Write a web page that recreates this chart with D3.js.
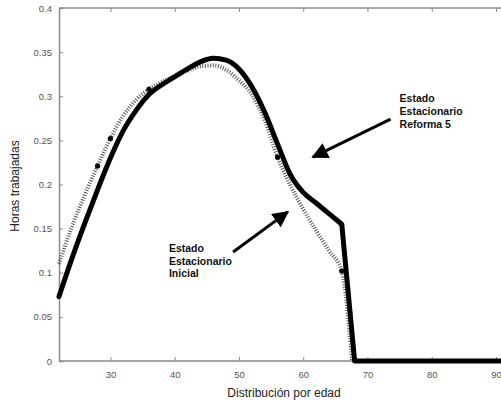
<!DOCTYPE html>
<html><head><meta charset="utf-8">
<script src="https://cdn.jsdelivr.net/npm/d3@7"></script>
<style>body{margin:0;background:#fff}svg{display:block}</style>
</head><body>
<svg id="c" width="501" height="403"></svg>
<script>
// Data
const ages = [22,24,26,28,30,32,34,36,38,40,42,44,46,48,50,52,54,56,58,60,62,64,66,68,70,75,80,85,90,92];
const reforma5 = [0.073,0.116,0.156,0.194,0.230,0.261,0.284,0.302,0.313,0.322,0.331,0.339,0.343,0.341,0.331,0.311,0.282,0.246,0.211,0.191,0.179,0.167,0.155,0,0,0,0,0,0,0];
const agesIni = [22,24,26,28,30,32,34,36,38,40,42,44,46,48,50,52,54,56,58,60,62,64,66,67.6];
const inicial = [0.110,0.152,0.188,0.221,0.252,0.278,0.296,0.308,0.316,0.323,0.329,0.334,0.335,0.330,0.318,0.302,0.273,0.231,0.199,0.172,0.148,0.125,0.102,0];
const markAges = [28,30,36,56,66];
const markVals = [0.221,0.252,0.308,0.231,0.102];
const xTicks = [30,40,50,60,70,80,90];
const yTicks = [0,0.05,0.1,0.15,0.2,0.25,0.3,0.35,0.4];
const yTickLabels = ["0","0.05","0.1","0.15","0.2","0.25","0.3","0.35","0.4"];
const notes = [
  {lines:["Estado","Estacionario","Reforma 5"], x:75.0, y:0.293, from:[73.6,0.274], to:[61.5,0.231]},
  {lines:["Estado","Estacionario","Inicial"], x:39.1, y:0.1235, from:[49.1,0.1235], to:[57.6,0.169]}
];

const svg = d3.select("#c");
const x = d3.scaleLinear().domain([22,90]).range([59,496]);
const y = d3.scaleLinear().domain([0,0.4]).range([361,8]);
const xMax = 93;

const axisColor = "#8a8a8a";
svg.append("line").attr("x1",x(22)).attr("x2",x(xMax)).attr("y1",y(0.4)).attr("y2",y(0.4)).attr("stroke",axisColor).attr("stroke-width",1.5);

const gx = svg.append("g").attr("transform",`translate(0,${y(0)})`)
  .call(d3.axisBottom(x).tickValues(xTicks).tickSize(-4).tickPadding(10).tickFormat(d3.format("d")));
gx.select(".domain").attr("d",`M${x(22)},0H${x(xMax)}`);
const gxt = svg.append("g").attr("transform",`translate(0,${y(0.4)})`)
  .call(d3.axisTop(x).tickValues(xTicks).tickSize(-4).tickFormat(""));
gxt.select(".domain").remove();
const gy = svg.append("g").attr("transform",`translate(${x(22)},0)`)
  .call(d3.axisLeft(y).tickValues(yTicks).tickSize(-4).tickPadding(7).tickFormat((d,i)=>yTickLabels[i]));
[gx,gxt,gy].forEach(g=>{
  g.selectAll(".domain").attr("stroke",axisColor).attr("stroke-width",1.5);
  g.selectAll(".tick line").attr("stroke",axisColor).attr("stroke-width",1);
  g.selectAll("text").attr("font-family","Liberation Sans, Arial, sans-serif").attr("font-size",9.5).attr("fill","#555");
});

// lines
const smooth = d3.line().x(d=>x(d[0])).y(d=>y(d[1])).curve(d3.curveMonotoneX);
const straight = d3.line().x(d=>x(d[0])).y(d=>y(d[1])).curve(d3.curveLinear);
svg.append("path").datum(agesIni.map((a,i)=>[a,inicial[i]]))
  .attr("d",smooth).attr("fill","none")
  .attr("stroke","#555").attr("stroke-width",4).attr("stroke-dasharray","1 1.6");
const solidPts = ages.map((a,i)=>[a,reforma5[i]]);
const kinkIdx = ages.indexOf(66);
svg.append("path").datum(solidPts.slice(0,kinkIdx+1))
  .attr("d",smooth).attr("fill","none")
  .attr("stroke","#000").attr("stroke-width",5).attr("stroke-linejoin","round").attr("stroke-linecap","round");
svg.append("path").datum(solidPts.slice(kinkIdx))
  .attr("d",straight).attr("fill","none")
  .attr("stroke","#000").attr("stroke-width",5).attr("stroke-linejoin","round");
svg.selectAll("circle.m").data(markAges).enter().append("circle")
  .attr("cx",d=>x(d)).attr("cy",(d,i)=>y(markVals[i])).attr("r",2.6).attr("fill","#000");

// arrows
svg.append("defs").append("marker").attr("id","ah").attr("viewBox","0 0 10 10")
  .attr("refX",9).attr("refY",5).attr("markerWidth",5.5).attr("markerHeight",5.5)
  .attr("markerUnits","strokeWidth").attr("orient","auto")
  .append("path").attr("d","M0,0L10,5L0,10Z").attr("fill","#000");
notes.forEach(n=>{
  svg.append("line").attr("x1",x(n.from[0])).attr("y1",y(n.from[1]))
    .attr("x2",x(n.to[0])).attr("y2",y(n.to[1])).attr("stroke","#000").attr("stroke-width",3)
    .attr("marker-end","url(#ah)");
  const t = svg.append("text").attr("x",x(n.x)).attr("y",y(n.y))
    .attr("font-family","Liberation Sans, Arial, sans-serif").attr("font-size",10.5).attr("font-weight","bold").attr("fill","#111");
  n.lines.forEach((l,i)=>t.append("tspan").attr("x",x(n.x)).attr("dy",i?12.7:0).text(l));
});

// titles
svg.append("text").attr("x",284).attr("y",397).attr("text-anchor","middle")
  .attr("font-family","Liberation Sans, Arial, sans-serif").attr("font-size",12).attr("fill","#222")
  .text("Distribución por edad");
svg.append("text").attr("transform","translate(19,186) rotate(-90)").attr("text-anchor","middle")
  .attr("font-family","Liberation Sans, Arial, sans-serif").attr("font-size",12).attr("fill","#222")
  .text("Horas trabajadas");
</script>
</body></html>
